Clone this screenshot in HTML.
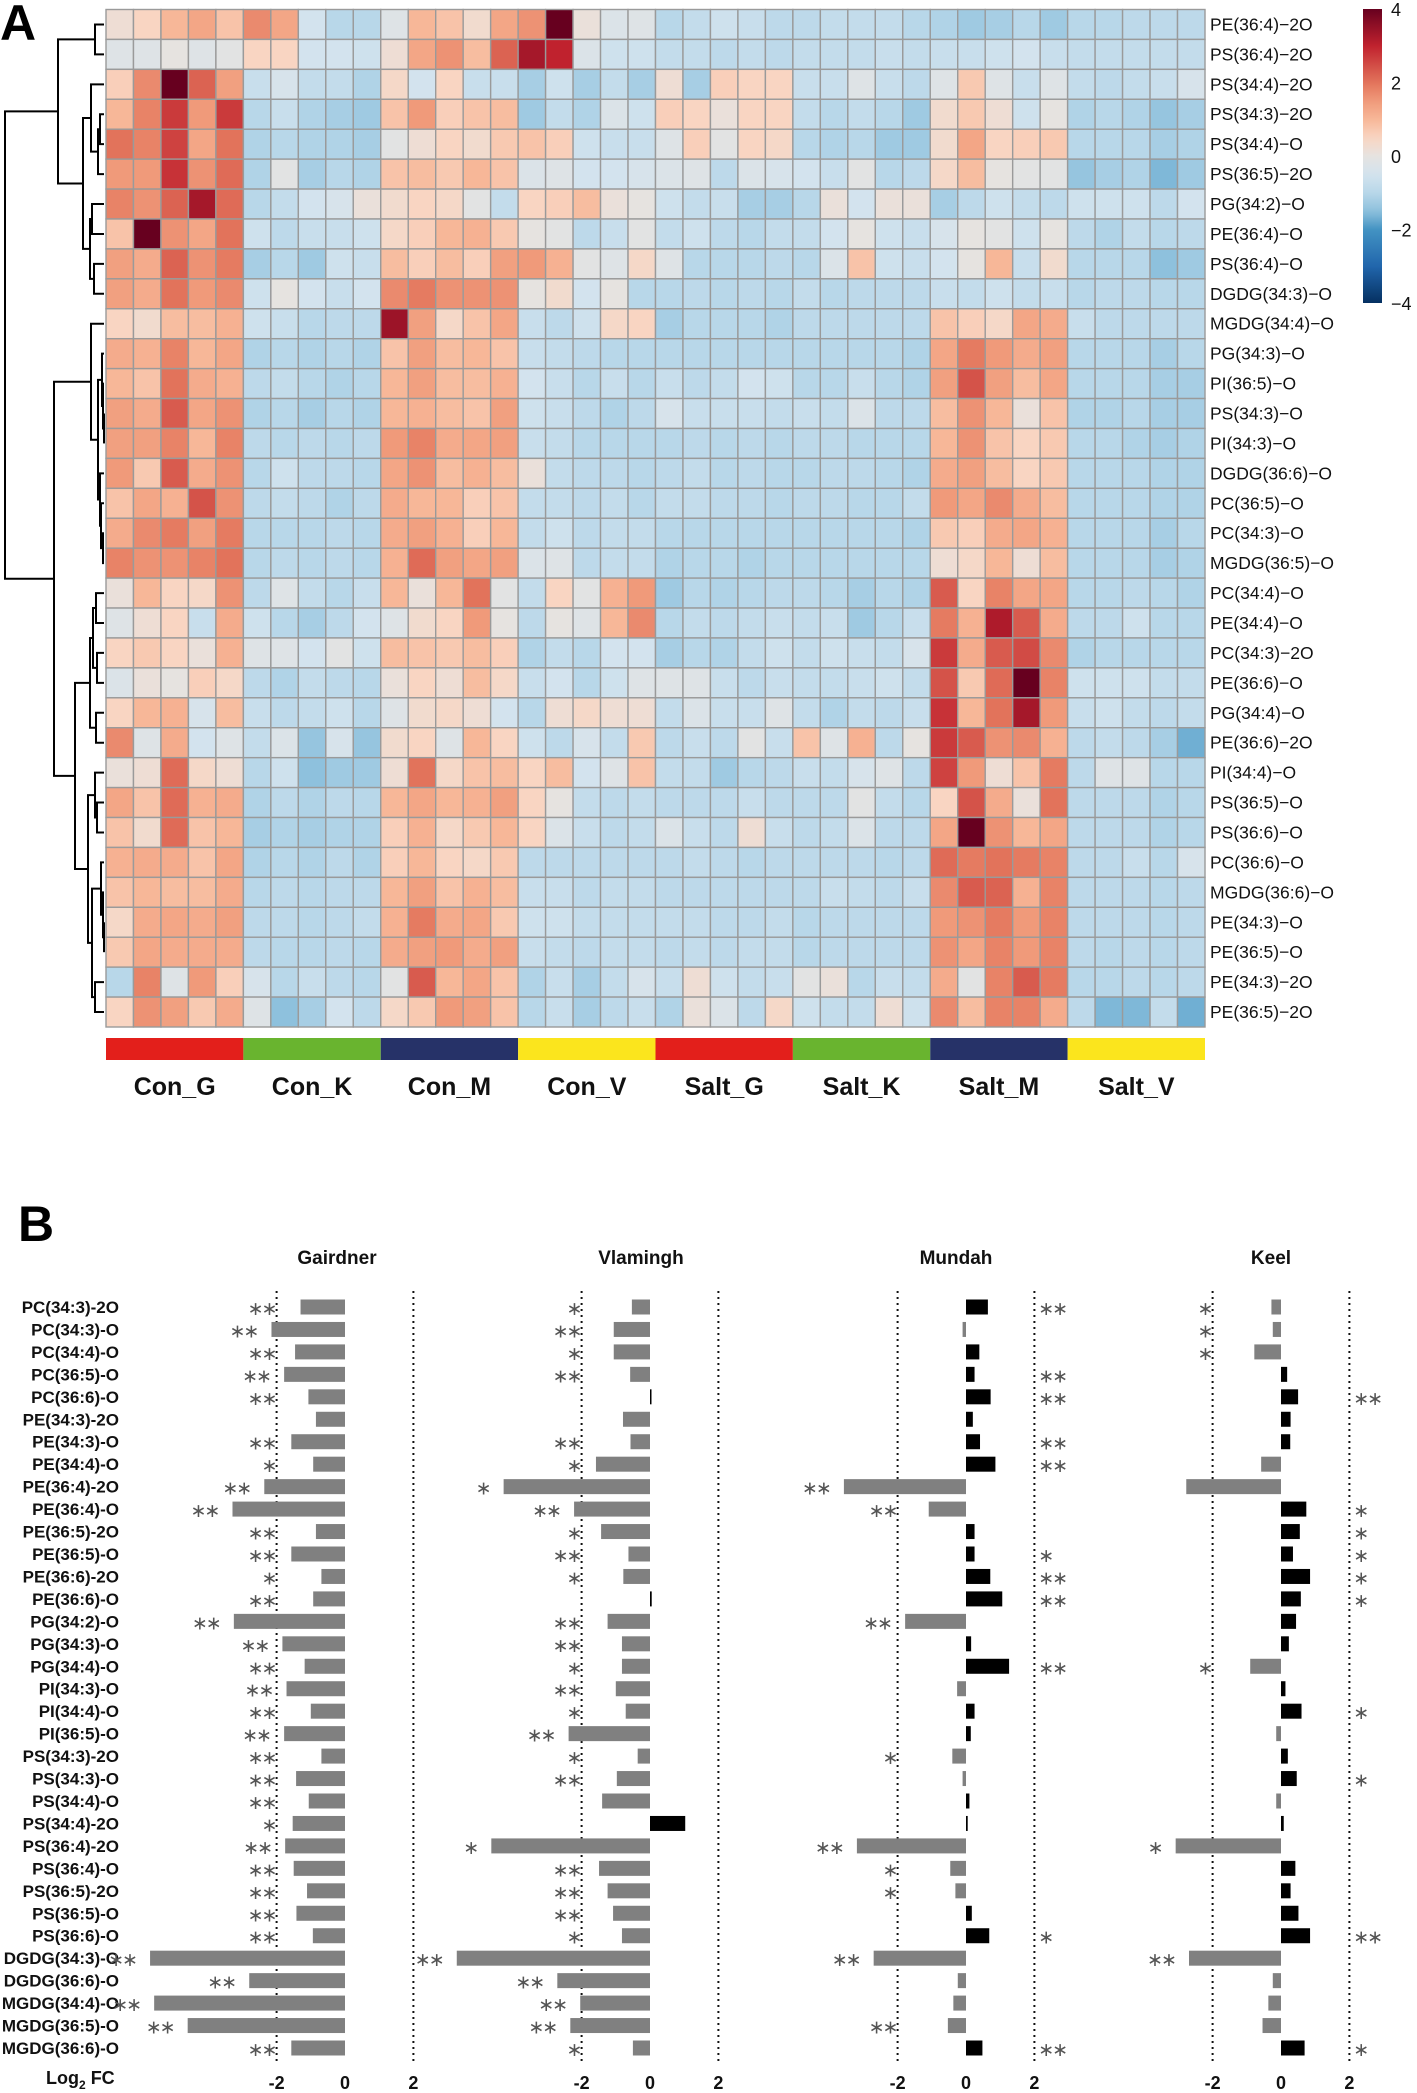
<!DOCTYPE html>
<html><head><meta charset="utf-8">
<style>
html,body{margin:0;padding:0;background:#fff;}
svg{display:block;font-family:"Liberation Sans",Arial,sans-serif;}
</style></head>
<body>
<svg id="fig" width="1417" height="2093" viewBox="0 0 1417 2093" xmlns="http://www.w3.org/2000/svg">
<text x="0" y="40" font-size="50" font-weight="bold">A</text>
<text x="18" y="1241" font-size="50" font-weight="bold">B</text>
<g id="heat"></g>
<g id="dendro"></g>
<g id="cbar"></g>
<g id="groups"></g>
<g id="bars"></g>
</svg>
<script>
// ---------- Panel A data ----------
const rowLabels = ["PE(36:4)−2O","PS(36:4)−2O","PS(34:4)−2O","PS(34:3)−2O","PS(34:4)−O","PS(36:5)−2O","PG(34:2)−O","PE(36:4)−O","PS(36:4)−O","DGDG(34:3)−O","MGDG(34:4)−O","PG(34:3)−O","PI(36:5)−O","PS(34:3)−O","PI(34:3)−O","DGDG(36:6)−O","PC(36:5)−O","PC(34:3)−O","MGDG(36:5)−O","PC(34:4)−O","PE(34:4)−O","PC(34:3)−2O","PE(36:6)−O","PG(34:4)−O","PE(36:6)−2O","PI(34:4)−O","PS(36:5)−O","PS(36:6)−O","PC(36:6)−O","MGDG(36:6)−O","PE(34:3)−O","PE(36:5)−O","PE(34:3)−2O","PE(36:5)−2O"];
const groupLabels = ["Con_G","Con_K","Con_M","Con_V","Salt_G","Salt_K","Salt_M","Salt_V"];
const legendTicks = [4,2,0,-2,-4];
const heatValues = [
[0.2,0.5,1,1.3,0.8, 1.7,1.3,-0.5,-1,-1, -0.2,1,0.8,0.3,1.3, 1.6,4,0.1,-0.3,-0.2, -1,-0.8,-0.6,-0.7,-0.9, -0.9,-0.8,-0.8,-0.8,-1, -1.1,-1.3,-1.2,-1,-1.3, -1,-1,-0.9,-0.9,-0.9],
[-0.2,-0.2,0,-0.2,-0.1, 0.5,0.5,-0.5,-0.5,-0.6, 0.2,1.3,1.6,0.9,2.2, 3.3,3,-0.3,-0.6,-0.6, -0.8,-0.8,-0.9,-0.8,-0.9, -0.8,-0.8,-0.8,-0.7,-0.8, -0.7,-0.7,-0.6,-0.5,-0.7, -0.8,-0.8,-0.8,-0.8,-0.8],
[0.6,1.7,4.2,2.2,1.4, -0.7,-0.4,-0.8,-0.8,-1.1, 0.4,-0.5,0.5,-0.7,-0.7, -1.2,-0.6,-1.2,-0.8,-1.2, 0.2,-1.2,0.6,0.5,0.5, -0.7,-0.7,-0.2,-0.7,-0.9, -0.2,0.7,-0.2,-0.7,-0.2, -0.8,-0.9,-0.8,-0.7,-0.4],
[1,1.8,2.7,1.5,2.7, -1,-0.7,-1.1,-1.2,-1.3, 0.8,1.5,0.6,0.8,0.9, -1.3,-0.8,-1.1,-0.3,-0.6, 0.6,0.5,0.1,0.5,0.5, -0.8,-1,-0.8,-1,-1.3, 0.3,0.7,0.2,-0.6,0, -1.1,-1,-1.1,-1.4,-1.2],
[2,1.8,2.6,1.3,2, -1.1,-1,-1.1,-1.1,-1.2, -0.1,0.2,0.5,0.3,0.7, 0.8,0.6,-0.6,-0.7,-0.7, -0.2,0.6,-0.1,0.5,0.4, -1,-1.1,-1,-1.3,-1.3, 0.3,1.3,0.5,0.6,0.7, -1,-1,-1,-1.2,-1.1],
[1.5,1.5,2.8,1.6,2.1, -1.1,-0.1,-1.2,-1,-1.1, 0.8,0.9,0.7,1,0.8, -0.3,-0.2,-0.5,-0.5,-0.4, -0.3,-0.2,-0.9,-0.3,-0.4, -0.5,-0.7,-0.1,-1,-0.9, 0.4,0.9,0,-0.1,-0.1, -1.4,-1.2,-1.1,-1.6,-1.3],
[1.8,1.6,2.2,3.3,2.1, -1,-0.8,-0.5,-0.4,0.1, 0.3,0.5,0.4,-0.1,-0.8, 0.5,0.6,0.9,0.1,0, -0.6,-0.8,-0.7,-1.2,-1.2, -1,0.1,-0.5,0.1,0.1, -1.2,-0.9,-0.6,-0.8,-0.9, -0.6,-0.6,-0.6,-0.9,-0.5],
[0.8,4.2,1.6,1.3,2, -0.6,-0.9,-0.7,-0.7,-0.6, 0.4,0.6,1,1.1,0.7, 0,-0.1,-0.9,-0.7,-0.1, -0.8,-0.6,-0.9,-1,-0.8, -0.8,-0.5,0,-0.6,-0.7, -0.4,0,-0.1,-0.6,0, -0.9,-1.1,-0.8,-1,-0.9],
[1.4,1.2,2.2,1.6,1.9, -1.2,-1,-1.3,-0.6,-0.7, 0.9,0.6,0.9,0.6,1.4, 1.5,1.1,-0.1,-0.2,0.4, -0.2,-1,-1,-1,-0.9, -1,-0.3,0.8,-0.6,-0.7, -0.5,0,1,-0.7,0.3, -1,-1,-1,-1.5,-1.3],
[1.4,1.2,2,1.5,1.7, -0.6,0,-0.5,-0.7,-0.5, 1.7,1.9,1.6,1.6,1.6, 0,0.3,-0.5,0,-1, -1,-0.9,-1,-0.9,-1, -0.8,-1,-0.9,-0.9,-0.9, -0.7,-0.8,-0.6,-0.8,-0.7, -1,-0.9,-0.9,-1,-1],
[0.5,0.3,0.9,0.9,1.1, -0.6,-0.7,-1,-0.9,-0.9, 3.4,1.4,0.4,0.8,1.3, -0.7,-0.9,-0.6,0.4,0.5, -1.2,-1,-1,-1,-1.1, -0.9,-0.9,-0.9,-0.9,-0.9, 0.8,0.6,0.4,1.3,1.2, -0.7,-0.9,-0.9,-0.9,-0.9],
[1.2,1.1,1.8,1,1.3, -1.1,-1,-1.1,-1,-1.1, 0.8,1.4,0.9,1,0.8, -0.7,-0.8,-0.9,-1,-1, -1,-1,-1,-1,-1, -1,-1,-1,-1,-1.1, 1.3,1.9,1.5,1.2,1.4, -1,-1,-1,-1.2,-1],
[1,0.8,2,1.2,1.1, -0.9,-0.8,-1,-1.1,-1, 1,1.4,0.9,0.9,1.1, -0.5,-0.7,-1,-0.7,-1, -0.7,-0.9,-0.8,-0.5,-0.6, -1,-1,-0.7,-1,-1.1, 1.4,2.4,1.4,0.9,1.3, -1,-1,-1,-1.2,-1.2],
[1.4,1.2,2.3,1.3,1.6, -1.1,-1,-1.2,-1,-1.1, 1,1.1,0.9,0.8,1.4, -0.6,-0.7,-0.9,-1.1,-0.9, -0.4,-0.7,-0.7,-0.7,-0.8, -0.7,-0.8,-0.3,-0.9,-0.9, 0.9,1.6,1,0.1,0.8, -1.1,-1.1,-1,-1.2,-1.2],
[1.4,1.4,1.8,1,1.8, -0.9,-1,-0.9,-1,-0.9, 1.5,1.8,1.2,1.3,1.4, -0.7,-0.8,-1,-1,-1, -1,-0.9,-1,-0.9,-1, -0.9,-0.9,-1,-1,-1, 1,1.6,0.8,0.5,0.7, -1,-1,-1.1,-1.2,-1.1],
[1.5,0.7,2.3,1.2,1.6, -1,-0.6,-0.9,-0.9,-1, 1.3,1.6,0.9,1.1,0.9, 0.1,-0.8,-0.9,-0.9,-1, -0.9,-0.8,-1,-0.9,-1, -1,-0.9,-0.9,-1,-1.1, 1.2,1.4,0.9,0.5,0.7, -1,-1,-1,-1.1,-1.1],
[0.8,1.3,1.1,2.4,1.6, -0.9,-0.8,-0.9,-1.1,-0.9, 1.2,1,1,0.6,0.8, -0.8,-0.8,-0.9,-0.8,-1, -0.8,-0.8,-0.9,-0.9,-1, -0.9,-0.9,-1,-1,-0.8, 1.5,1.3,1.7,1.2,0.9, -1,-1,-1,-1.1,-1.1],
[1.2,1.7,1.9,1.4,1.9, -1,-1,-1,-0.9,-1, 1.2,1.4,1.1,0.6,1, -0.8,-0.6,-0.9,-0.8,-0.8, -1,-1,-1,-1,-1, -1,-1,-1,-1,-1.1, 0.7,0.6,1.2,1.3,1.1, -1,-1,-1,-1.2,-1],
[1.8,1.6,1.6,1.8,2, -1,-0.9,-1,-0.9,-1, 1.1,2.1,1.4,1.3,1.4, -0.3,-0.2,-0.9,-0.8,-0.8, -1.1,-1,-1,-1.1,-1, -1,-1,-1,-1,-1, 0.2,0.4,1,0.2,0.9, -1,-1,-1,-1.2,-1.1],
[0.1,1,0.5,0.4,1.6, -0.9,-0.2,-0.8,-1,-0.7, 1,0.1,1,2,-0.1, -0.8,0.5,-0.1,1.1,1.5, -1.3,-1,-1.1,-1,-0.9, -0.9,-1,-1.2,-1,-1.1, 2.3,0.5,1.8,1.3,1.3, -1,-1,-0.9,-1,-1.1],
[-0.2,0.2,0.5,-0.7,1.2, -0.6,-1,-1.2,-0.9,-0.5, -0.2,0.3,0.5,1.5,0, -0.9,0,-0.2,1,1.7, -1,-0.8,-0.9,-0.8,-0.7, -0.8,-0.7,-1.3,-1,-0.7, 1.9,1.1,3.2,2.3,1.2, -0.9,-0.9,-0.6,-1,-1],
[0.5,0.7,0.5,0.1,1.1, -0.2,-0.2,-0.5,-0.1,-0.6, 0.9,0.8,0.7,0.9,0.6, -1.1,-0.8,-1,-0.5,-0.5, -1.2,-1,-1.1,-0.8,-0.6, -0.8,-0.6,-0.7,-0.8,-0.4, 2.7,1.2,2.3,2.5,1.7, -1.1,-1,-1,-1,-1],
[-0.3,0.1,0,0.6,0.4, -0.9,-1.1,-0.8,-0.9,-1, 0.1,0.5,0.2,0.9,0.4, -0.7,-0.5,-1,-0.6,-0.2, -0.2,-0.2,-0.7,-0.9,-0.7, -0.8,-0.8,-0.7,-0.6,-0.8, 2.4,0.7,2.1,4.2,1.8, -0.6,-0.6,-0.6,-0.8,-0.8],
[0.5,1,1.1,-0.4,0.9, -0.7,-0.9,-0.8,-0.6,-1, -0.2,0.3,0.4,0.2,-0.5, -1,0.2,0.4,0.2,0.2, -0.8,-0.3,-0.7,-0.7,-0.2, -0.8,-1.1,-0.8,-0.9,-0.7, 2.8,1,2,3.3,1.5, -0.7,-0.6,-0.8,-0.9,-0.8],
[1.7,-0.2,1.2,-0.5,-0.2, -0.8,-0.3,-1.4,-0.4,-1.4, 0.3,0.5,-0.2,1,0.5, -0.6,-0.9,-0.4,-0.8,0.7, -0.9,-0.7,-0.9,-0.1,-0.7, 0.8,-0.2,1.1,-0.9,0, 2.7,2.3,1.6,1.7,1.1, -0.9,-0.8,-0.9,-1.2,-1.7],
[0.1,0.2,2.1,0.4,0.2, -1,-0.6,-1.5,-1.3,-1.3, 0.2,2,0.4,0.8,0.9, 0.5,0.9,-0.5,-0.2,0.8, -0.8,-0.8,-1.3,-1,-0.9, -0.7,-0.8,-0.4,-0.2,-0.9, 2.6,1.5,0.2,0.8,1.9, -0.9,-0.2,-0.2,-1,-1],
[1.3,0.8,2.1,1.1,1.2, -1.1,-0.9,-1.1,-0.9,-1, 1,1.3,1,1.1,1.4, 0.5,0,-0.8,-0.9,-0.8, -0.9,-0.9,-0.9,-0.7,-0.9, -0.9,-0.9,-0.1,-0.8,-1, 0.5,2.4,1.2,0.1,2, -0.9,-0.9,-0.9,-1.1,-1],
[0.8,0.3,2.1,0.8,1, -1.2,-1.1,-1.2,-1.1,-1.1, 0.6,1.1,0.4,0.7,1, 0.5,-0.3,-0.7,-0.9,-0.8, -0.3,-0.7,-0.9,0.2,-0.7, -0.9,-0.8,-0.3,-0.9,-0.9, 1.3,4,1.6,1,1.3, -0.9,-0.9,-0.9,-1.1,-1],
[1.1,1.2,1.2,0.8,1.3, -1.1,-1,-1.1,-0.9,-1.1, 0.6,1,0.5,0.4,0.7, -0.9,-0.9,-0.9,-0.9,-0.9, -0.9,-0.8,-0.9,-1,-0.9, -0.9,-0.9,-0.9,-1,-0.9, 2.1,1.9,2,1.9,1.8, -0.9,-0.9,-0.7,-1,-0.4],
[0.8,1,0.9,0.9,1.2, -1,-0.9,-1,-0.9,-0.9, 1,1.4,0.8,1.1,0.9, -0.7,-0.7,-0.9,-0.8,-0.8, -0.9,-0.9,-0.9,-0.9,-0.9, -0.9,-0.7,-0.8,-0.9,-0.7, 1.7,2.3,2.2,1.1,1.8, -0.9,-0.9,-0.9,-1,-0.9],
[0.4,1.2,1.3,1.2,1.4, -0.9,-0.9,-1,-0.9,-0.8, 1.1,1.9,1.2,1.3,0.7, -0.6,-0.6,-0.8,-0.8,-0.8, -0.8,-0.8,-0.9,-0.9,-0.8, -1,-0.9,-0.9,-0.9,-0.9, 1.5,1.6,1.9,1.5,1.8, -0.9,-0.9,-0.9,-1,-0.9],
[0.7,1.3,1.2,1.2,1.2, -0.9,-1,-1,-0.9,-1, 1.2,1.4,1.5,1.2,1.4, -0.7,-0.8,-0.9,-0.8,-0.8, -0.9,-0.8,-0.9,-0.8,-0.8, -1,-0.9,-0.9,-0.9,-0.9, 1.6,1.3,1.8,1.5,1.8, -0.9,-1,-0.9,-1,-0.9],
[-1,1.8,-0.2,1.5,0.6, -0.4,-1,-0.7,-0.9,-1, -0.1,2.3,1,1.3,0.8, -1.1,-0.7,-1.2,-0.8,-0.4, -0.7,0.2,-0.6,-0.8,-0.7, -0.1,0.1,-1,-0.7,-0.8, 1.2,-0.1,1.8,2.3,1.9, -1,-1,-0.9,-1,-0.9],
[0.5,1.6,1.4,0.7,1.2, -0.2,-1.5,-1.2,-0.5,-0.9, 0.4,0.7,1.5,1.4,0.8, -1,-0.7,-1.2,-0.9,-0.7, -1.1,0.1,-0.3,-0.9,0.4, -0.6,-0.8,-0.8,0.2,-0.6, 1.7,0.9,1.8,1.8,1.2, -0.9,-1.6,-1.6,-0.8,-1.7]
];
// dendrogram topology (leaf = row index, node = [left, right, mergeX])
const dendroTree = [[[0,1,95],[[2,[[3,4,100],5,98],91],[[6,7,92],[8,9,94],90],83],58],
 [[10,[[11,[12,[13,14,104],103],102],[15,[16,[17,18,103],101],100],98],91],
  [[[[19,20,96],[21,22,97],93],[23,24,96],90],[[25,[26,27,97],95],[[28,[29,[30,31,104],103],101],[32,33,95],92],88],75],54],5];

// ---------- Panel B data ----------
const lipids = ["PC(34:3)-2O","PC(34:3)-O","PC(34:4)-O","PC(36:5)-O","PC(36:6)-O","PE(34:3)-2O","PE(34:3)-O","PE(34:4)-O","PE(36:4)-2O","PE(36:4)-O","PE(36:5)-2O","PE(36:5)-O","PE(36:6)-2O","PE(36:6)-O","PG(34:2)-O","PG(34:3)-O","PG(34:4)-O","PI(34:3)-O","PI(34:4)-O","PI(36:5)-O","PS(34:3)-2O","PS(34:3)-O","PS(34:4)-O","PS(34:4)-2O","PS(36:4)-2O","PS(36:4)-O","PS(36:5)-2O","PS(36:5)-O","PS(36:6)-O","DGDG(34:3)-O","DGDG(36:6)-O","MGDG(34:4)-O","MGDG(36:5)-O","MGDG(36:6)-O"];
const siteNames = ["Gairdner","Vlamingh","Mundah","Keel"];
const gairdnerFC = [-1.3,-2.15,-1.46,-1.78,-1.07,-0.85,-1.57,-0.93,-2.36,-3.29,-0.85,-1.57,-0.69,-0.93,-3.25,-1.83,-1.18,-1.71,-1.0,-1.78,-0.69,-1.43,-1.06,-1.53,-1.75,-1.5,-1.11,-1.42,-0.94,-5.7,-2.8,-5.58,-4.6,-1.57];
const vlaminghFC = [-0.53,-1.06,-1.06,-0.58,0.03,-0.79,-0.57,-1.58,-4.28,-2.22,-1.43,-0.63,-0.78,0.05,-1.24,-0.82,-0.82,-1.0,-0.71,-2.38,-0.36,-0.97,-1.4,1.03,-4.64,-1.49,-1.24,-1.08,-0.82,-5.65,-2.71,-2.04,-2.33,-0.5];
const mundahFC = [0.64,-0.1,0.39,0.25,0.72,0.2,0.41,0.86,-3.57,-1.09,0.25,0.25,0.71,1.06,-1.78,0.15,1.26,-0.26,0.25,0.14,-0.4,-0.1,0.1,0.05,-3.19,-0.46,-0.31,0.17,0.68,-2.7,-0.24,-0.37,-0.53,0.48];
const keelFC = [-0.28,-0.24,-0.78,0.18,0.5,0.28,0.27,-0.58,-2.77,0.74,0.55,0.35,0.85,0.58,0.44,0.23,-0.9,0.13,0.6,-0.14,0.2,0.46,-0.14,0.08,-3.08,0.42,0.28,0.51,0.85,-2.69,-0.24,-0.37,-0.54,0.69];
const gairdnerSig = ["**","**","**","**","**","","**","*","**","**","**","**","*","**","**","**","**","**","**","**","**","**","**","*","**","**","**","**","**","**","**","**","**","**"];
const vlaminghSig = ["*","**","*","**","","","**","*","*","**","*","**","*","","**","**","*","**","*","**","*","**","","","*","**","**","**","*","**","**","**","**","*"];
const mundahSig = ["**","","","**","**","","**","**","**","**","","*","**","**","**","","**","","","","*","","","","**","*","*","","*","**","","","**","**"];
const keelSig = ["*","*","*","","**","","","","","*","*","*","*","*","","","*","","*","","","*","","","*","","","","**","**","","","","*"];
const axisTicks = [-2,0,2];

// ---------- helpers ----------
const NS = "http://www.w3.org/2000/svg";
function mk(tag, attrs, parent){ const e=document.createElementNS(NS,tag); for(const k in attrs) e.setAttribute(k,attrs[k]); parent.appendChild(e); return e; }
const stops = [[-4,[5,48,97]],[-3,[33,102,172]],[-2,[67,147,195]],[-1.5,[142,193,221]],[-1,[184,215,233]],[-0.5,[211,227,238]],[0,[230,227,224]],[0.5,[249,213,194]],[1,[247,183,152]],[1.5,[240,154,122]],[2,[226,115,91]],[3,[192,34,46]],[4,[103,0,31]]];
function colorOf(v){
  v=Math.max(-4,Math.min(4,v));
  for(let i=0;i<stops.length-1;i++){ const a=stops[i],b=stops[i+1]; if(v<=b[0]){ const t=(v-a[0])/(b[0]-a[0]); const c=a[1].map((x,j)=>Math.round(x+(b[1][j]-x)*t)); return `rgb(${c[0]},${c[1]},${c[2]})`; } }
  return "rgb(103,0,31)";
}

// ---------- heatmap ----------
const HX0=106, HX1=1205, HY0=9.5, HY1=1027;
const nRows=rowLabels.length, nCols=heatValues[0].length;
const cw=(HX1-HX0)/nCols, rh=(HY1-HY0)/nRows;
const colX = c => HX0 + c*cw;
const rowY = r => HY0 + r*rh;
const heat=document.getElementById('heat');
heatValues.forEach((row,r)=>{
  row.forEach((v,c)=>{
    const el=mk('rect',{x:colX(c),y:rowY(r),width:cw,height:rh,fill:colorOf(v),stroke:'#9a9a9a','stroke-width':1.4},heat);
    
    
  });
  const t=mk('text',{x:1210,y:rowY(r)+rh/2+6,'font-size':17.5,fill:'#111'},heat);
  t.textContent=rowLabels[r];
  
  
});

// ---------- dendrogram ----------
const dg=document.getElementById('dendro');
function drawNode(n){
  if(typeof n==='number') return {x:HX0-2,y:rowY(n)+rh/2};
  const a=drawNode(n[0]), b=drawNode(n[1]), x=n[2];
  const p=mk('path',{d:`M${a.x},${a.y}H${x}V${b.y}H${b.x}`,fill:'none',stroke:'#000','stroke-width':2},dg);
  
  
  return {x:x,y:(a.y+b.y)/2};
}
drawNode(dendroTree);

// ---------- color legend ----------
const cb=document.getElementById('cbar');
const CBY0=9, CBY1=303, CBX=1363, CBW=19;
const cbY = v => CBY0 + (4-v)/8*(CBY1-CBY0);
const grad=mk('linearGradient',{id:'cbg',x1:0,y1:0,x2:0,y2:1},mk('defs',{},cb));
for(let i=0;i<=40;i++){ const v=4-i*0.2; mk('stop',{offset:(i/40),'stop-color':colorOf(v)},grad); }
const cbr=mk('rect',{x:CBX,y:CBY0,width:CBW,height:CBY1-CBY0,fill:'url(#cbg)'},cb);


legendTicks.forEach(v=>{
  const t=mk('text',{x:1391,y:cbY(v)+7,'font-size':18,fill:'#111'},cb);
  t.textContent=(v<0?'−':'')+Math.abs(v);
  
  
});

// ---------- group bar ----------
const gg=document.getElementById('groups');
const groupColors=['#e31f1b','#69b42f','#263268','#fbe51d','#e31f1b','#69b42f','#263268','#fbe51d'];
groupLabels.forEach((g,i)=>{
  const x=colX(i*5), w=cw*5;
  const r=mk('rect',{x:x,y:1038,width:w,height:22,fill:groupColors[i]},gg);
  
  
  const t=mk('text',{x:x+w/2,y:1095,'font-size':25,'font-weight':'bold','text-anchor':'middle',fill:'#111'},gg);
  t.textContent=g;
  
  
});

// ---------- Panel B ----------
const bg=document.getElementById('bars');
const zeros=[345,650,966,1281], unit=34.2;
const series=[gairdnerFC,vlaminghFC,mundahFC,keelFC];
const sigs=[gairdnerSig,vlaminghSig,mundahSig,keelSig];
const BY0=1307, BSTEP=(2048-1307)/(lipids.length-1), BH=15;
const barY = i => BY0 + i*BSTEP;
lipids.forEach((l,i)=>{
  const t=mk('text',{x:119,y:barY(i)+6,'font-size':17,'font-weight':'bold','text-anchor':'end',fill:'#111'},bg);
  t.textContent=l;
  
  
});
const lg=mk('text',{x:46,y:2084,'font-size':18,'font-weight':'bold',fill:'#111'},bg);
lg.innerHTML='Log<tspan font-size="12" dy="5">2</tspan><tspan dy="-5"> FC</tspan>';


siteNames.forEach((s,k)=>{
  const z=zeros[k], xs=v=>z+v*unit;
  const tt=mk('text',{x:[337,641,956,1271][k],y:1264,'font-size':19,'font-weight':'bold','text-anchor':'middle',fill:'#111'},bg);
  tt.textContent=s;
  
  
  [-2,2].forEach(v=>{
    const ln=mk('line',{x1:xs(v),x2:xs(v),y1:1291,y2:2064,stroke:'#111','stroke-width':2,'stroke-dasharray':'2 4'},bg);
    
    
  });
  axisTicks.forEach(v=>{
    const t=mk('text',{x:xs(v),y:2089,'font-size':18,'font-weight':'bold','text-anchor':'middle',fill:'#111'},bg);
    t.textContent=String(v);
    
    
  });
  series[k].forEach((v,i)=>{
    const y=barY(i);
    const x0=Math.min(xs(0),xs(v)), w=Math.max(1.5,Math.abs(xs(v)-xs(0)));
    const b=mk('rect',{x:x0,y:y-BH/2,width:w,height:BH,fill:v<0?'#808080':'#000'},bg);
    
    
    const sg=sigs[k][i];
    if(sg){
      let attrs={y:y+8,'font-size':19,fill:'#555','font-family':'DejaVu Sans, sans-serif','letter-spacing':'-2'};
      if(v<0){ attrs.x=Math.min(xs(-2)-1,xs(v)-14); attrs['text-anchor']='end'; }
      else { attrs.x=xs(2)+4; attrs['text-anchor']='start'; }
      const st=mk('text',attrs,bg);
      st.textContent=sg.replace(/\*/g,'∗');
      
      
    }
  });
});
</script>
</body></html>
